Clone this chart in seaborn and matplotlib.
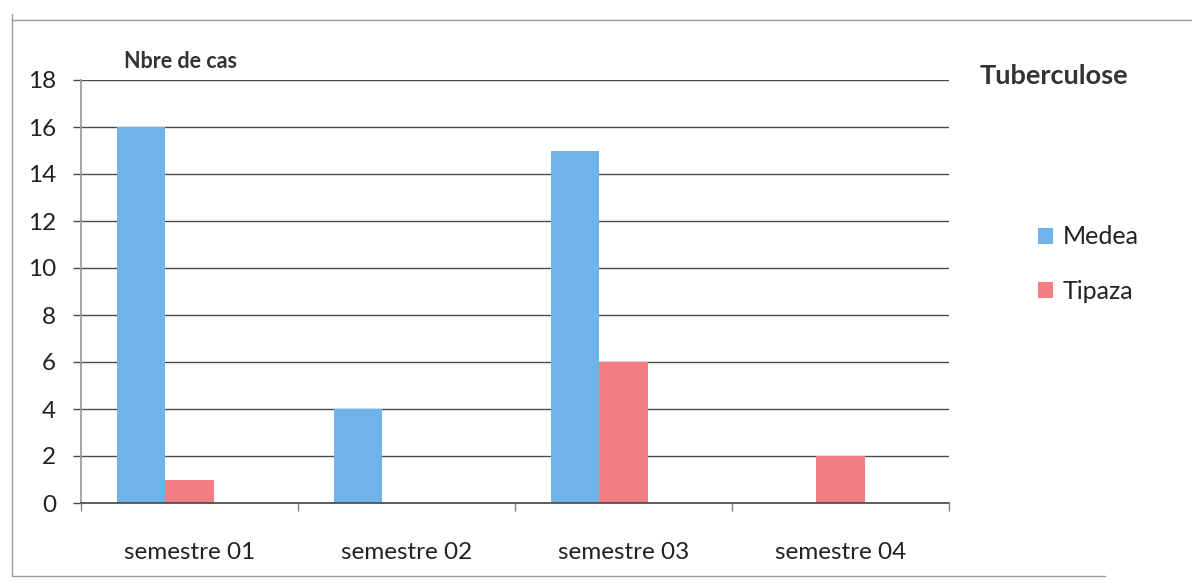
import matplotlib
matplotlib.use('Agg')
import matplotlib.pyplot as plt
import seaborn as sns
import pandas as pd
from matplotlib.lines import Line2D

# ---- data ----
semestres = ['semestre 01', 'semestre 02', 'semestre 03', 'semestre 04']
medea = [16, 4, 15, 0]
tipaza = [1, 0, 6, 2]
serie3 = [0, 0, 0, 0]
series_names = ['Medea', 'Tipaza', 'Série3']
yticks = list(range(0, 19, 2))

sns.set_theme(style='white')
plt.rcParams['font.family'] = ['Lato', 'DejaVu Sans']

df = pd.DataFrame({
    'semestre': semestres * 3,
    'cas': medea + tipaza + serie3,
    'serie': [n for n in series_names for _ in semestres],
})

W, H = 1192, 584
fig = plt.figure(figsize=(W / 100, H / 100), dpi=100)
ax = fig.add_axes([81 / W, 1 - 503 / H, (949 - 81) / W, (503 - 80) / H])

palette = {'Medea': '#70B2EA', 'Tipaza': '#F37F84', 'Série3': '#F2A65A'}
sns.barplot(data=df, x='semestre', y='cas', hue='serie', hue_order=series_names,
            order=semestres, palette=palette, width=0.664, gap=0, saturation=1,
            linewidth=0, errorbar=None, ax=ax)

ax.set_xlim(-0.5, 3.5)
ax.set_ylim(0, 18)
ax.set_yticks(yticks)
ax.yaxis.grid(True, color='#4a4a4a', lw=1)
ax.xaxis.grid(False)
ax.set_axisbelow(True)
for s in ['top', 'right']:
    ax.spines[s].set_visible(False)
ax.spines['left'].set_color('#9a9a9a')
ax.spines['bottom'].set_color('#4a4a4a')
ax.set_xlabel('')
ax.set_ylabel('')

txt = '#222222'
ax.tick_params(axis='y', length=6, width=1, color='#4a4a4a', pad=12,
               labelsize=17.5, labelcolor=txt, left=True)
ax.tick_params(axis='x', which='major', length=0, pad=28, labelsize=17.5, labelcolor=txt)
ax.set_xticks([-0.5, 0.5, 1.5, 2.5, 3.5], minor=True)
ax.tick_params(axis='x', which='minor', length=6, width=1, color='#808080',
               direction='out', bottom=True)

# legend (only the two named series)
handles, labels = ax.get_legend_handles_labels()
ax.legend(handles[:2], labels[:2], loc='center left',
          bbox_to_anchor=(1015 / W, 1 - 264 / H), bbox_transform=fig.transFigure,
          frameon=False, fontsize=18, handlelength=0.6, handleheight=0.6,
          handletextpad=0.4, labelspacing=1.25, labelcolor=txt)

fig.text(124 / W, 1 - 62 / H, 'Nbre de cas', fontsize=15.5, fontweight='bold',
         color='#333333', ha='left', va='center')
fig.text(980 / W, 1 - 76 / H, 'Tuberculose', fontsize=19.5, fontweight='bold',
         color='#333333', ha='left', va='center')

# outer chart frame
fc = '#9a9a9a'
fig.add_artist(Line2D([12 / W, 1.0], [1 - 20 / H] * 2, transform=fig.transFigure, color=fc, lw=1))
fig.add_artist(Line2D([12 / W] * 2, [1 - 14 / H, 1 - 576 / H], transform=fig.transFigure, color=fc, lw=1))
fig.add_artist(Line2D([12 / W, 1105 / W], [1 - 576 / H] * 2, transform=fig.transFigure, color=fc, lw=1))

fig.savefig('out.png', dpi=100)
